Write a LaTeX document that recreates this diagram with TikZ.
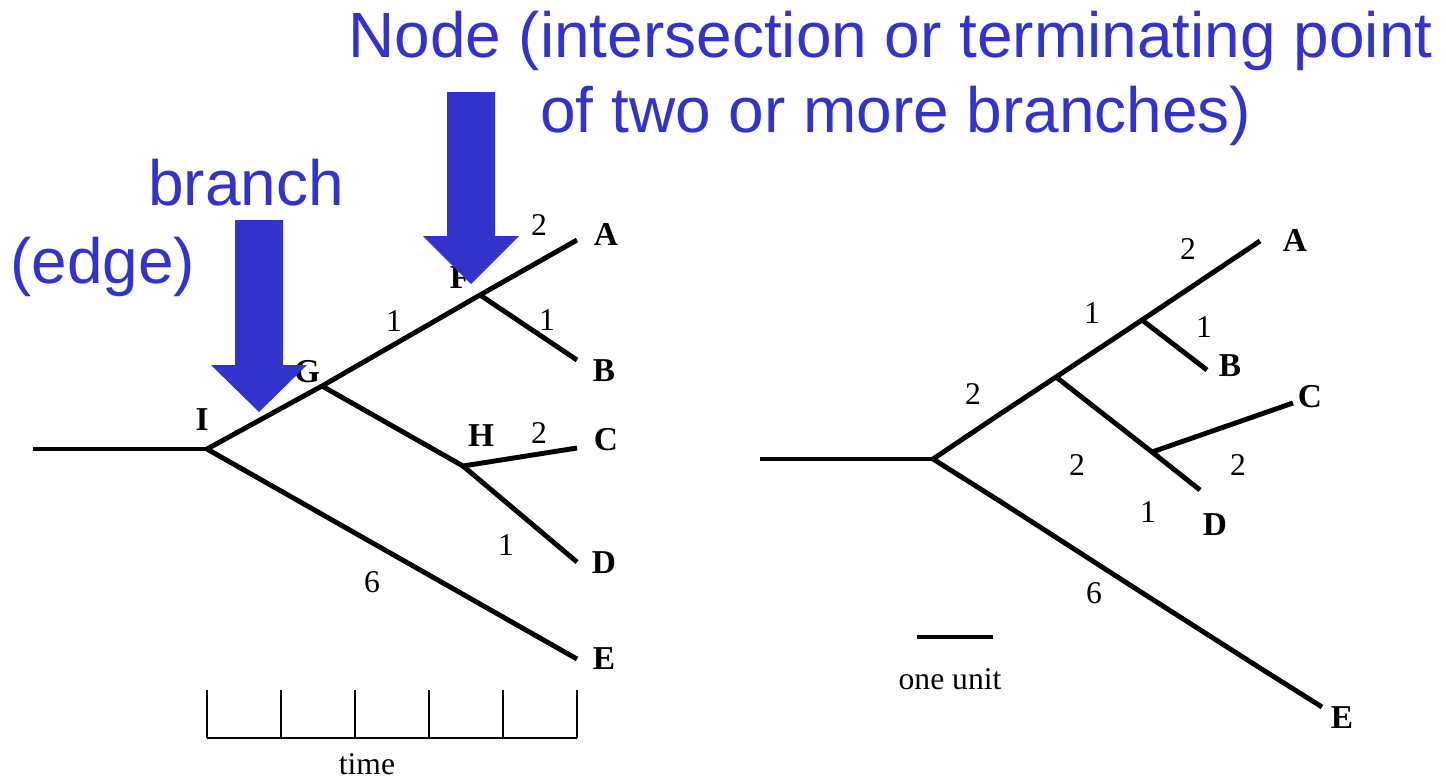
\documentclass[tikz,border=0pt]{standalone}
\usepackage{fontspec}
\setmainfont{Liberation Serif}
\newfontfamily\calloutfont{Liberation Sans}
\usetikzlibrary{positioning}
\definecolor{CalloutBlue}{RGB}{51,51,204}
\tikzset{
  treeline/.style={line width=2.8pt,draw=black,line cap=butt},
  axisline/.style={line width=0.8pt,draw=black},
  taxon/.style={font=\fontsize{19}{22}\selectfont\bfseries,inner sep=0pt},
  brlen/.style={font=\fontsize{18}{21}\selectfont,inner sep=0pt},
  callout/.style={font=\calloutfont\fontsize{36.4}{44}\selectfont,
    text=CalloutBlue,inner sep=0pt},
}
% fat down arrow: centre x, top y, head base y, tip y
\newcommand{\fatarrow}[4]{%
  \fill[CalloutBlue] (#1-24,#2) -- (#1+24,#2) -- (#1+24,#3) -- (#1+48,#3)
    -- (#1,#4) -- (#1-48,#3) -- (#1-24,#3) -- cycle;}

\begin{document}
\begin{tikzpicture}[x=0.02cm,y=-0.02cm]
  \path[use as bounding box] (0,0) rectangle (1446,782);

  % ---- rooted tree with time axis
  \coordinate (root) at (33,449);
  \coordinate (I) at (207,449);
  \coordinate (G) at (322,386);
  \coordinate (F) at (480,295);
  \coordinate (H) at (463,466);
  \coordinate (A) at (577,240);
  \coordinate (B) at (577,360);
  \coordinate (C) at (577,448);
  \coordinate (D) at (577,562);
  \coordinate (E) at (577,659);
  \draw[treeline] (root) -- (I);
  \draw[treeline] (I) -- (G) -- (F) -- (A);
  \draw[treeline] (F) -- (B);
  \draw[treeline] (G) -- (H) -- (C);
  \draw[treeline] (H) -- (D);
  \draw[treeline] (I) -- (E);

  \node[taxon] (lA) at (606,234) {A};
  \node[taxon] (lB) at (604,371) {B};
  \node[taxon] (lC) at (606,440) {C};
  \node[taxon] (lD) at (604,563) {D};
  \node[taxon] (lE) at (604,659) {E};
  \node[taxon] (lI) at (202,420) {I};
  \node[taxon] (lG) at (307,372) {G};
  \node[taxon] (lF) at (460,278) {F};
  \node[taxon] (lH) at (481,436) {H};

  \node[brlen] at (539,225) {2};
  \node[brlen] at (394,321) {1};
  \node[brlen] at (547,320) {1};
  \node[brlen] at (539,433) {2};
  \node[brlen] at (506,545) {1};
  \node[brlen] at (372,582) {6};

  \draw[axisline] (207,738) -- (577,738);
  \foreach \t in {0,...,5}
    \draw[axisline] (207+74*\t,738) -- (207+74*\t,690);
  \node[brlen] (time) at (367,764) {time};

  % ---- unrooted-style tree with scale bar
  \coordinate (rroot) at (760,459);
  \coordinate (R) at (933,459);
  \coordinate (X) at (1056,377);
  \coordinate (Y) at (1142,320);
  \coordinate (Z) at (1152,452);
  \coordinate (rA) at (1260,241);
  \coordinate (rB) at (1207,370);
  \coordinate (rC) at (1293,403);
  \coordinate (rD) at (1200,490);
  \coordinate (rE) at (1322,707);
  \coordinate (t1) at (1000,414);
  \coordinate (t2) at (998,500);
  \coordinate (t3) at (1130,585);
  \coordinate (t4) at (1260,668);
  \draw[treeline] (rroot) -- (R);
  \draw[treeline] (R) -- (t1);
  \draw[treeline] (t1) -- (X) -- (Y) -- (rA);
  \draw[treeline] (Y) -- (rB);
  \draw[treeline] (X) -- (Z) -- (rD);
  \draw[treeline] (Z) -- (rC);
  \draw[treeline] (R) -- (t2);
  \draw[treeline] (t2) -- (t3);
  \draw[treeline] (t3) -- (t4);
  \draw[treeline] (t4) -- (rE);

  \node[taxon] (rlA) at (1295,240) {A};
  \node[taxon] (rlB) at (1230,366) {B};
  \node[taxon] (rlC) at (1310,397) {C};
  \node[taxon] (rlD) at (1215,525) {D};
  \node[taxon] (rlE) at (1342,718) {E};

  \node[brlen] at (1188,249) {2};
  \node[brlen] at (1092,313) {1};
  \node[brlen] at (1204,327) {1};
  \node[brlen] at (973,394) {2};
  \node[brlen] at (1077,465) {2};
  \node[brlen] at (1238,465) {2};
  \node[brlen] at (1148,512) {1};
  \node[brlen] at (1094,593) {6};

  \coordinate (u0) at (917,637);
  \coordinate (u1) at (993,637);
  \draw[treeline] (u0) -- (u1);
  \node[brlen] (unit) at (950,679) {one unit};

  % ---- blue callouts
  \node[callout,anchor=base west] (nodetxt) at (348,57)
    {Node (intersection or terminating point};
  \node[callout,anchor=base west] (nodetxt2) at (540,132)
    {of two or more branches)};
  \node[callout,anchor=base west] (branchtxt) at (148,205) {branch};
  \node[callout,anchor=base west] (edgetxt) at (10,283) {(edge)};
  \fatarrow{259}{220}{365}{412}
  \fatarrow{471}{92}{236}{284}
\end{tikzpicture}
\end{document}
